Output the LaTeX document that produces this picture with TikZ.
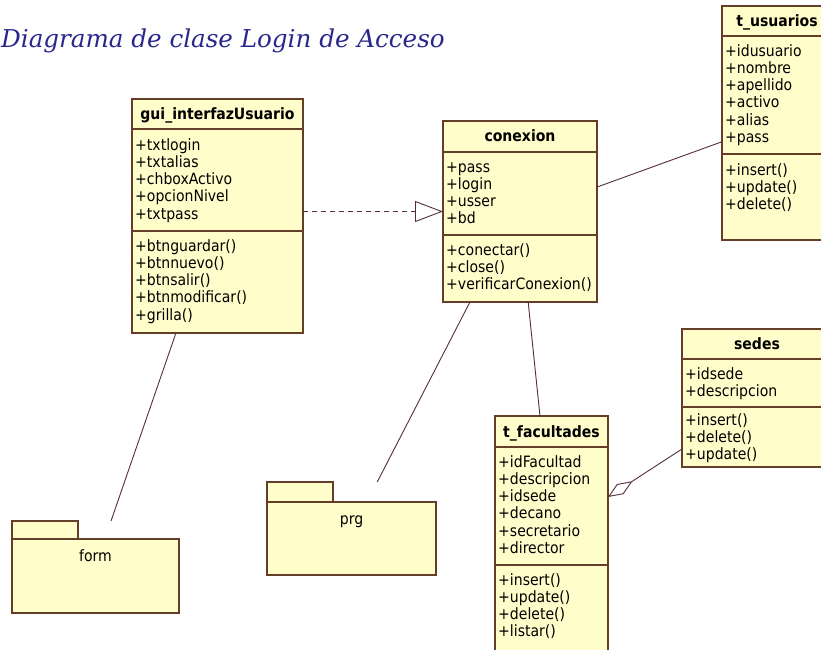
\documentclass[tikz,border=0pt]{standalone}
\usepackage{fontspec}
\setmainfont{DejaVu Sans Condensed}
\newfontfamily\titlefont{DejaVu Serif}
\usetikzlibrary{arrows.meta,calc}
\definecolor{umlfill}{RGB}{255,253,201}
\definecolor{umlline}{RGB}{100,62,40}
\definecolor{connc}{RGB}{85,45,60}
\definecolor{titleblue}{RGB}{40,40,140}
\newcommand\umlrows[4]{\foreach \t [count=\i] in {#4} {\node[txt] (#1\i) at (#2,{#3+17.3*(\i-1)}) {\t};}}
\begin{document}
\begin{tikzpicture}[x=1pt,y=-1pt,
  box/.style={draw=umlline, fill=umlfill, line width=1.2pt, inner sep=0pt, outer sep=0pt, anchor=north west},
  sepline/.style={draw=umlline, line width=1.2pt},
  txt/.style={font=\fontsize{15.6}{17}\selectfont, inner sep=0pt, anchor=base west, text=black},
  hdr/.style={font=\fontsize{15.6}{17}\selectfont\bfseries, inner sep=0pt, anchor=base, text=black},
  conn/.style={draw=connc, line width=0.9pt},
]
\fill[white] (0,0) rectangle (821,649);
\useasboundingbox (0,0) rectangle (821,649);
\clip (0,0) rectangle (821,649);

% title
\node[font=\titlefont\itshape\fontsize{24.6}{25}\selectfont, text=titleblue, anchor=base west, inner sep=0pt] (title) at (1,47) {Diagrama de clase Login de Acceso};

% gui_interfazUsuario
\node[box, minimum width=171pt, minimum height=234pt] (gui) at (132,99) {};
\draw[sepline] ($(gui.north west)+(0,30)$) -- ($(gui.north east)+(0,30)$);
\draw[sepline] ($(gui.north west)+(0,132)$) -- ($(gui.north east)+(0,132)$);
\node[hdr] (gui-t) at (217.5,119) {gui\_interfazUsuario};
\umlrows{gui-a}{135}{150}{+txtlogin,+txtalias,+chboxActivo,+opcionNivel,+txtpass}
\umlrows{gui-m}{135}{251}{+btnguardar(),+btnnuevo(),+btnsalir(),+btnmodificar(),+grilla()}

% conexion
\node[box, minimum width=154pt, minimum height=181pt] (conx) at (443,121) {};
\draw[sepline] ($(conx.north west)+(0,31)$) -- ($(conx.north east)+(0,31)$);
\draw[sepline] ($(conx.north west)+(0,114)$) -- ($(conx.north east)+(0,114)$);
\node[hdr] (conx-t) at (520,141) {conexion};
\umlrows{conx-a}{446}{172}{+pass,+login,+usser,+bd}
\umlrows{conx-m}{446}{255}{+conectar(),+close(),+verificarConexion()}

% t_usuarios
\node[box, minimum width=110pt, minimum height=234pt] (tusu) at (722,6) {};
\draw[sepline] ($(tusu.north west)+(0,30)$) -- ($(tusu.north east)+(0,30)$);
\draw[sepline] ($(tusu.north west)+(0,148)$) -- ($(tusu.north east)+(0,148)$);
\node[hdr] (tusu-t) at (777,26) {t\_usuarios};
\umlrows{tusu-a}{725}{56}{+idusuario,+nombre,+apellido,+activo,+alias,+pass}
\umlrows{tusu-m}{725}{175}{+insert(),+update(),+delete()}

% sedes
\node[box, minimum width=150pt, minimum height=138pt] (sedes) at (682,329) {};
\draw[sepline] ($(sedes.north west)+(0,30)$) -- ($(sedes.north east)+(0,30)$);
\draw[sepline] ($(sedes.north west)+(0,78)$) -- ($(sedes.north east)+(0,78)$);
\node[hdr] (sedes-t) at (757,349) {sedes};
\umlrows{sedes-a}{685}{379}{+idsede,+descripcion}
\umlrows{sedes-m}{685}{425}{+insert(),+delete(),+update()}

% t_facultades
\node[box, minimum width=113pt, minimum height=250pt] (fac) at (495,416) {};
\draw[sepline] ($(fac.north west)+(0,31)$) -- ($(fac.north east)+(0,31)$);
\draw[sepline] ($(fac.north west)+(0,149)$) -- ($(fac.north east)+(0,149)$);
\node[hdr] (fac-t) at (551.5,437) {t\_facultades};
\umlrows{fac-a}{498}{467}{+idFacultad,+descripcion,+idsede,+decano,+secretario,+director}
\umlrows{fac-m}{498}{585}{+insert(),+update(),+delete(),+listar()}

% packages
\node[box, minimum width=66pt, minimum height=18pt] (formtab) at (12,521) {};
\node[box, minimum width=167pt, minimum height=74pt] (form) at (12,539) {};
\node[txt, anchor=base] (form-l) at (95.5,561) {form};
\node[box, minimum width=66pt, minimum height=20pt] (prgtab) at (267,482) {};
\node[box, minimum width=169pt, minimum height=73pt] (prg) at (267,502) {};
\node[txt, anchor=base] (prg-l) at (351.5,524) {prg};

% connectors
\draw[conn, dash pattern=on 5pt off 4pt, -{Triangle[open,length=28pt,width=21pt]}] (gui.east |- conx.west) -- (conx.west);
\draw[conn] ($(conx.north east)!0.365!(conx.south east)$) -- ($(tusu.north west)!0.58!(tusu.south west)$);
\draw[conn] ($(gui.south west)!0.257!(gui.south east)$) -- ($(formtab.north west)!1.5!(formtab.north east)$);
\draw[conn] ($(conx.south west)!0.175!(conx.south east)$) -- ($(prgtab.north west)!1.67!(prgtab.north east)$);
\draw[conn] ($(conx.south west)!0.553!(conx.south east)$) -- ($(fac.north west)!0.398!(fac.north east)$);
\draw[conn, {Diamond[open,length=29pt,width=12pt]}-] ($(fac.north east)+(0,81)$) -- ($(sedes.north west)+(0,120)$);
\end{tikzpicture}
\end{document}
